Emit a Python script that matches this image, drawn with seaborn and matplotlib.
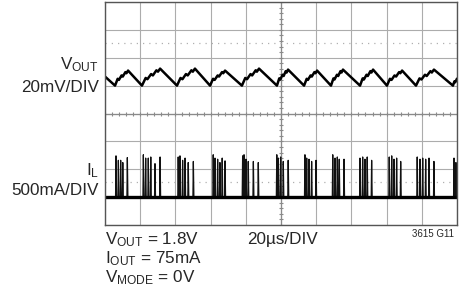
import matplotlib
matplotlib.use("Agg")
import matplotlib.pyplot as plt
import seaborn as sns
import pandas as pd
import numpy as np

# ---------------- data ----------------
# V_OUT trace: time (us) and ripple (mV above trough)
vout_t = [0.0, 5.7, 7.2, 7.9, 9.4, 10.1, 11.6, 12.2, 13.1,
          21.0, 23.1, 24.1, 26.2, 27.2, 29.2, 30.1, 31.3,
          40.9, 42.9, 44.0, 46.0, 47.0, 49.1, 49.9, 51.1,
          59.7, 61.4, 62.3, 64.0, 64.8, 66.5, 67.2, 68.2,
          77.8, 79.7, 80.7, 82.7, 83.6, 85.6, 86.3, 87.5,
          97.7, 99.0, 99.6, 100.9, 101.5, 102.7, 103.2, 104.0,
          113.1, 114.6, 115.3, 116.8, 117.5, 119.0, 119.6, 120.5,
          128.4, 129.8, 130.4, 131.8, 132.5, 133.8, 134.4, 135.2,
          144.9, 146.4, 147.1, 148.6, 149.3, 150.8, 151.4, 152.3,
          160.2, 161.9, 162.8, 164.5, 165.4, 167.1, 167.8, 168.8,
          176.7, 178.7, 179.8, 181.8, 182.8, 184.9, 185.7, 186.9,
          197.7, 198.5, 199.0, 200.0]
vout_mv = [6.5, 0.0, 4.9, 4.1, 7.3, 6.5, 9.7, 8.9, 10.8,
           0.0, 5.5, 4.6, 8.3, 7.3, 11.0, 10.0, 12.2,
           0.0, 5.5, 4.6, 8.3, 7.3, 11.0, 10.0, 12.2,
           0.0, 4.9, 4.1, 7.3, 6.5, 9.7, 8.9, 10.8,
           0.0, 5.5, 4.6, 8.3, 7.3, 11.0, 10.0, 12.2,
           0.0, 5.2, 4.4, 7.8, 6.9, 10.4, 9.4, 11.5,
           0.0, 4.9, 4.1, 7.3, 6.5, 9.7, 8.9, 10.8,
           0.0, 5.2, 4.4, 7.8, 6.9, 10.4, 9.4, 11.5,
           0.0, 5.2, 4.4, 7.8, 6.9, 10.4, 9.4, 11.5,
           0.0, 4.9, 4.1, 7.3, 6.5, 9.7, 8.9, 10.8,
           0.0, 5.2, 4.4, 7.8, 6.9, 10.4, 9.4, 11.5,
           0.0, 3.0, 2.4, 5.0]

# Inductor current pulses: pulse centre time (us) and peak (mA)
il_pulse_t = [6.25, 7.6, 8.9, 10.1, 12.7,
              21.8, 23.1, 24.6, 26.0, 28.4, 31.3,
              41.6, 42.6, 44.1, 45.5, 47.3, 50.2,
              61.5, 62.5, 64.0, 65.3, 66.6, 68.2,
              78.2, 79.0, 80.1, 81.4, 84.3, 87.1,
              97.6, 98.5, 99.8, 101.3, 104.1,
              113.6, 114.6, 115.9, 117.4, 119.9,
              129.4, 130.7, 132.0, 133.1, 135.8,
              144.9, 146.4, 147.7, 149.0, 151.5,
              161.5, 162.9, 164.2, 165.7, 168.0,
              177.4, 179.0, 180.5, 182.2, 184.1, 186.9,
              198.3, 199.4]
il_pulse_ma = [740, 660, 660, 620, 710,
               760, 700, 700, 720, 600, 720,
               720, 740, 660, 700, 620, 640,
               760, 700, 680, 620, 700, 650,
               740, 760, 680, 640, 640, 620,
               760, 700, 720, 640, 660,
               760, 700, 680, 640, 660,
               760, 700, 720, 680, 680,
               700, 720, 680, 720, 660,
               720, 740, 680, 700, 640,
               720, 680, 700, 680, 700, 640,
               700, 620]

div_labels = ["V$_{OUT}$", "20mV/DIV", "I$_{L}$", "500mA/DIV"]
cond_labels = ["V$_{OUT}$ = 1.8V", "I$_{OUT}$ = 75mA", "V$_{MODE}$ = 0V"]
timebase = "20\u00b5s/DIV"
fig_id = "3615 G11"

# scope settings (divisions)
VOUT_SCALE = 20.0   # mV/div
VOUT_POS = 5.0      # div
IL_SCALE = 500.0    # mA/div
IL_POS = 1.0        # div
T_PER_DIV = 20.0

# ---------------- figure ----------------
sns.set_style("white")
plt.rcParams['font.family'] = ['Liberation Sans', 'DejaVu Sans']
plt.rcParams['mathtext.fontset'] = 'custom'
plt.rcParams['mathtext.rm'] = 'Liberation Sans'
plt.rcParams['mathtext.it'] = 'Liberation Sans'
plt.rcParams['mathtext.default'] = 'regular'

W, H = 469, 292
fig = plt.figure(figsize=(W / 100, H / 100), dpi=100)
L, R, T, B = 105, 457, 2, 225
ax = fig.add_axes([L / W, 1 - B / H, (R - L) / W, (B - T) / H])

ax.set_xlim(0, 10 * T_PER_DIV)
ax.set_ylim(0, 8)
ax.set_xticks(np.arange(0, 10 * T_PER_DIV + 1, T_PER_DIV))
ax.set_yticks(np.arange(0, 9, 1))
ax.grid(True, color="#acacac", lw=0.8)
ax.tick_params(length=0, labelbottom=False, labelleft=False)
for s in ax.spines.values():
    s.set_color("#555555")
    s.set_linewidth(1.0)

# centre graticule with minor ticks
ax.axvline(5 * T_PER_DIV, color="#8a8a8a", lw=0.9)
ax.axhline(4, color="#8a8a8a", lw=0.9)
mx = np.arange(0, 10 * T_PER_DIV + 0.01, T_PER_DIV / 5)
my = np.arange(0, 8.001, 0.2)
ax.scatter(mx, np.full_like(mx, 4.0), marker='|', s=10, color="#8a8a8a", lw=0.8, zorder=2)
ax.scatter(np.full_like(my, 5 * T_PER_DIV), my, marker='_', s=10, color="#8a8a8a", lw=0.8, zorder=2)

# dotted reference lines
ax.axhline(6.53, color="#b0b0b0", lw=0.9, ls=(0, (1, 4)))
ax.axhline(1.55, color="#b0b0b0", lw=0.9, ls=(0, (1, 4)))

# V_OUT trace
dv = pd.DataFrame({"t": vout_t, "v": np.array(vout_mv) / VOUT_SCALE + VOUT_POS})
sns.lineplot(data=dv, x="t", y="v", sort=False, estimator=None, color="black", lw=1.8, ax=ax)

# I_L trace built from pulse list
it, iv = [0.0], [0.0]
for t, h in zip(il_pulse_t, il_pulse_ma):
    it += [t - 0.25, t, t + 0.3]
    iv += [0.0, h, 0.0]
it.append(200.0)
iv.append(0.0)
di = pd.DataFrame({"t": it, "i": np.array(iv) / IL_SCALE + IL_POS})
sns.lineplot(data=di, x="t", y="i", sort=False, estimator=None, color="#111111", lw=0.9, ax=ax)
sns.lineplot(x=[0.0, 200.0], y=[IL_POS, IL_POS], color="black", lw=2.4, ax=ax)
ax.set_xlabel("")
ax.set_ylabel("")

# ---------------- text ----------------
fs = 12.3
def ftxt(x, y, s, **kw):
    fig.text(x / W, 1 - y / H, s, **kw)

ftxt(99, 69, div_labels[0], ha="right", va="baseline", fontsize=fs)
ftxt(99, 92, div_labels[1], ha="right", va="baseline", fontsize=fs)
ftxt(99, 175, div_labels[2], ha="right", va="baseline", fontsize=fs)
ftxt(99, 195, div_labels[3], ha="right", va="baseline", fontsize=fs)

ftxt(105, 244, cond_labels[0], ha="left", va="baseline", fontsize=fs)
ftxt(105, 263, cond_labels[1], ha="left", va="baseline", fontsize=fs)
ftxt(105, 282, cond_labels[2], ha="left", va="baseline", fontsize=fs)
ftxt(247, 244, timebase, ha="left", va="baseline", fontsize=fs)
ftxt(454, 237, fig_id, ha="right", va="baseline", fontsize=7)

fig.savefig("out.png", dpi=100)
